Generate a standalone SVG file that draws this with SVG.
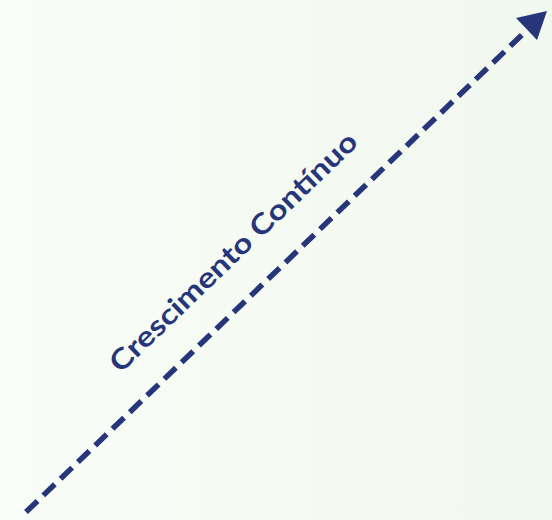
<svg xmlns="http://www.w3.org/2000/svg" width="552" height="520" viewBox="0 0 552 520">
  <defs>
    <linearGradient id="bg" x1="0" y1="0" x2="1" y2="0">
      <stop offset="0" stop-color="#f9fdf8"/>
      <stop offset="1" stop-color="#f1f8ee"/>
    </linearGradient>
    <style>
      .line { stroke: #27357a; stroke-width: 5.5; stroke-dasharray: 16 8; fill: none; }
      .head { fill: #27357a; }
      .label { font-family: "Lato", "Liberation Sans", sans-serif; font-weight: 700; font-size: 28px; fill: #27357a; }
    </style>
  </defs>
  <rect width="552" height="520" fill="url(#bg)"/>
  <g id="connectors">
    <line class="line" x1="26" y1="512" x2="527" y2="30"/>
    <polygon class="head" points="547,11 516,18 537,40"/>
  </g>
  <g id="label">
    <text class="label" x="0" y="0" text-anchor="middle" textLength="332" lengthAdjust="spacingAndGlyphs" transform="translate(240,259) rotate(-43.9)">Crescimento Contínuo</text>
  </g>
</svg>
